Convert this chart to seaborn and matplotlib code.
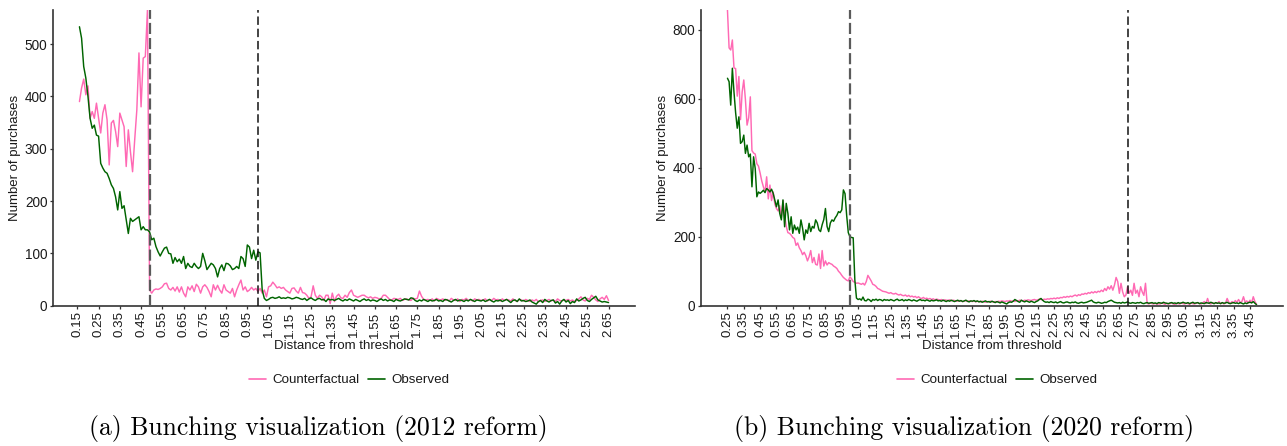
import numpy as np
import pandas as pd
import matplotlib
matplotlib.use("Agg")
import matplotlib.pyplot as plt
from matplotlib.lines import Line2D
import seaborn as sns

sns.set_theme(style="white")
plt.rcParams["font.family"] = ["Liberation Sans", "DejaVu Sans"]

# ---------------- data ----------------
series_names = ["Counterfactual", "Observed"]
series_colors = ["#FF69B4", "#006400"]

# 2012 reform: distance bins 0.16 .. 2.65
dist_2012 = np.round(np.arange(16, 266) / 100, 2)
cf_2012 = [
    390, 416, 433, 403, 420, 358, 371, 358, 387, 358,
    330, 368, 384, 355, 269, 349, 354, 333, 304, 368,
    355, 342, 266, 336, 294, 256, 317, 374, 483, 380,
    473, 476, 565, 30, 24, 30, 32, 31, 33, 36,
    42, 43, 33, 30, 35, 28, 36, 26, 36, 24,
    17, 36, 30, 38, 27, 41, 36, 24, 36, 40,
    35, 27, 17, 40, 30, 39, 30, 24, 40, 30,
    27, 24, 33, 17, 30, 40, 49, 30, 36, 27,
    30, 35, 30, 33, 27, 33, 24, 30, 17, 36,
    38, 45, 40, 34, 36, 33, 35, 30, 27, 24,
    33, 34, 28, 24, 35, 25, 24, 20, 14, 17,
    38, 20, 14, 20, 17, 10, 20, 20, 4, 24,
    8, 18, 22, 15, 14, 20, 16, 25, 30, 20,
    18, 16, 18, 20, 20, 17, 15, 17, 14, 16,
    15, 13, 14, 20, 20, 16, 12, 11, 14, 13,
    12, 14, 10, 12, 13, 11, 10, 14, 13, 14,
    28, 18, 12, 11, 12, 10, 13, 9, 14, 12,
    11, 13, 10, 12, 9, 14, 11, 10, 13, 8,
    12, 11, 14, 10, 12, 9, 13, 11, 12, 10,
    11, 13, 9, 12, 10, 14, 11, 12, 9, 13,
    10, 12, 11, 9, 13, 10, 8, 12, 11, 9,
    12, 10, 8, 11, 9, 12, 7, 10, 11, 8,
    10, 12, 9, 11, 8, 13, 10, 9, 11, 10,
    12, 9, 11, 8, 10, 13, 17, 11, 9, 14,
    12, 20, 16, 11, 8, 13, 16, 12, 19, 10,
]
obs_2012 = [
    533, 511, 457, 435, 400, 358, 339, 345, 326, 324,
    272, 263, 256, 253, 243, 231, 224, 208, 183, 218,
    186, 191, 164, 138, 167, 161, 164, 167, 170, 145,
    151, 145, 145, 141, 126, 129, 113, 103, 95, 103,
    110, 112, 100, 99, 81, 92, 84, 89, 81, 94,
    71, 81, 75, 73, 81, 75, 71, 75, 100, 86,
    69, 75, 81, 78, 71, 55, 71, 78, 67, 81,
    80, 76, 69, 71, 75, 71, 94, 90, 75, 116,
    112, 90, 106, 87, 103, 101, 30, 14, 10, 12,
    15, 16, 14, 15, 17, 14, 15, 14, 16, 15,
    13, 14, 16, 15, 13, 12, 14, 10, 13, 15,
    12, 10, 13, 14, 11, 12, 8, 13, 11, 12,
    10, 12, 14, 11, 9, 12, 10, 13, 11, 9,
    12, 10, 8, 11, 13, 10, 12, 9, 11, 10,
    8, 11, 13, 10, 12, 9, 11, 10, 8, 12,
    10, 9, 11, 13, 12, 11, 15, 14, 10, 8,
    11, 9, 12, 10, 8, 11, 9, 10, 12, 9,
    10, 8, 12, 11, 9, 7, 10, 12, 9, 11,
    10, 8, 11, 9, 12, 10, 8, 11, 10, 9,
    11, 8, 10, 12, 9, 7, 10, 9, 11, 8,
    10, 12, 9, 6, 10, 11, 8, 13, 9, 10,
    8, 9, 11, 7, 5, 3, 8, 10, 6, 12,
    9, 7, 10, 11, 5, 8, 3, 9, 12, 7,
    10, 4, 8, 6, 13, 9, 11, 14, 16, 10,
    8, 12, 15, 18, 11, 9, 7, 8, 7, 6,
]
thresholds_2012 = [0.49, 1.00]
xticks_2012 = np.round(np.arange(15, 266, 10) / 100, 2)
yticks_2012 = [0, 100, 200, 300, 400, 500]

# 2020 reform: distance bins 0.25 .. 3.49
dist_2020 = np.round(np.arange(25, 350) / 100, 2)
cf_2020 = [
    858, 748, 742, 771, 690, 688, 608, 665, 540, 620,
    655, 598, 524, 545, 606, 450, 443, 440, 412, 405,
    385, 362, 345, 330, 374, 310, 350, 305, 330, 295,
    282, 275, 290, 255, 305, 262, 230, 212, 210, 205,
    198, 195, 175, 182, 168, 160, 148, 155, 145, 130,
    142, 160, 125, 140, 120, 118, 150, 108, 160, 115,
    130, 118, 125, 122, 120, 115, 112, 108, 100, 95,
    88, 82, 78, 74, 72, 84, 78, 70, 68, 65,
    66, 64, 62, 65, 60, 70, 88, 80, 72, 62,
    60, 56, 50, 48, 45, 42, 41, 40, 38, 36,
    38, 35, 34, 36, 33, 31, 33, 30, 29, 31,
    27, 30, 26, 28, 25, 27, 23, 26, 22, 21,
    24, 20, 22, 19, 21, 18, 20, 17, 19, 18,
    16, 18, 15, 17, 16, 15, 17, 14, 16, 15,
    14, 13, 15, 14, 12, 13, 15, 12, 14, 13,
    12, 14, 11, 13, 12, 11, 13, 12, 10, 12,
    11, 13, 12, 10, 12, 11, 13, 12, 14, 13,
    12, 14, 13, 15, 13, 14, 12, 15, 14, 16,
    15, 14, 16, 15, 17, 16, 15, 17, 18, 16,
    17, 19, 18, 17, 19, 18, 20, 19, 21, 20,
    22, 20, 23, 21, 24, 23, 26, 24, 27, 25,
    28, 26, 29, 31, 28, 32, 30, 34, 33, 36,
    34, 38, 36, 40, 37, 41, 38, 42, 40, 45,
    41, 50, 44, 55, 48, 58, 45, 60, 82, 70,
    36, 65, 40, 26, 31, 55, 36, 45, 30, 65,
    36, 45, 26, 55, 40, 30, 65, 7, 5, 8,
    6, 5, 7, 4, 6, 5, 8, 6, 4, 7,
    5, 6, 8, 5, 4, 7, 6, 5, 8, 6,
    5, 7, 6, 4, 8, 6, 5, 7, 9, 6,
    5, 8, 12, 6, 21, 7, 5, 9, 6, 8,
    7, 12, 6, 9, 5, 8, 21, 10, 7, 12,
    8, 15, 10, 18, 9, 12, 26, 10, 14, 8,
    16, 9, 26, 12, 4,
]
obs_2020 = [
    660, 650, 582, 689, 620, 560, 515, 548, 471, 476,
    495, 442, 466, 432, 440, 345, 432, 398, 316, 330,
    326, 330, 335, 328, 340, 336, 330, 338, 326, 307,
    287, 307, 268, 249, 307, 229, 297, 268, 220, 258,
    210, 234, 220, 228, 210, 249, 225, 191, 220, 210,
    239, 215, 230, 225, 249, 240, 220, 215, 235, 250,
    282, 230, 215, 240, 249, 245, 255, 262, 273, 270,
    278, 336, 325, 262, 212, 200, 198, 197, 75, 22,
    18, 20, 16, 25, 15, 14, 19, 17, 12, 18,
    16, 19, 15, 18, 17, 14, 18, 16, 17, 15,
    18, 16, 14, 17, 19, 15, 16, 18, 14, 17,
    15, 18, 16, 14, 17, 15, 13, 16, 18, 15,
    16, 14, 17, 15, 13, 16, 14, 15, 17, 14,
    15, 13, 16, 14, 12, 15, 13, 16, 14, 12,
    14, 16, 13, 15, 12, 14, 16, 13, 11, 14,
    13, 15, 12, 14, 11, 13, 10, 12, 14, 11,
    12, 10, 13, 11, 9, 12, 10, 8, 11, 9,
    7, 5, 9, 11, 10, 13, 18, 15, 12, 10,
    16, 13, 11, 14, 12, 10, 13, 11, 9, 12,
    14, 18, 21, 16, 12, 10, 11, 9, 12, 10,
    9, 11, 8, 10, 12, 9, 8, 10, 11, 9,
    8, 10, 9, 11, 8, 7, 9, 10, 8, 9,
    10, 12, 14, 16, 11, 9, 8, 10, 9, 7,
    8, 10, 9, 12, 14, 16, 13, 10, 9, 8,
    9, 7, 10, 8, 9, 11, 8, 7, 9, 8,
    7, 9, 8, 10, 7, 6, 8, 9, 7, 8,
    9, 7, 8, 6, 9, 8, 7, 10, 8, 7,
    6, 8, 9, 7, 8, 6, 9, 7, 8, 10,
    8, 7, 9, 6, 8, 10, 7, 8, 9, 6,
    8, 7, 6, 9, 8, 7, 10, 8, 6, 9,
    7, 8, 6, 9, 7, 8, 10, 7, 6, 8,
    9, 7, 8, 6, 9, 7, 5, 8, 6, 9,
    10, 8, 12, 7, 3,
]
thresholds_2020 = [1.00, 2.70]
xticks_2020 = np.round(np.arange(25, 346, 10) / 100, 2)
yticks_2020 = [0, 200, 400, 600, 800]

captions = ["(a) Bunching visualization (2012 reform)",
            "(b) Bunching visualization (2020 reform)"]
x_title = "Distance from threshold"
y_title = "Number of purchases"

assert len(cf_2012) == len(obs_2012) == len(dist_2012)
assert len(cf_2020) == len(obs_2020) == len(dist_2020)

# ---------------- figure ----------------
W, H = 1287, 446
fig = plt.figure(figsize=(W / 100, H / 100), dpi=100)

axis_col = "#333333"
text_col = "#1a1a1a"


def panel(ax, dist, cf, obs, thresholds, xticks, yticks):
    df = pd.DataFrame({
        "dist": np.concatenate([dist, dist]),
        "count": np.concatenate([cf, obs]),
        "series": [series_names[0]] * len(dist) + [series_names[1]] * len(dist),
    })
    sns.lineplot(data=df, x="dist", y="count", hue="series",
                 hue_order=series_names, palette=series_colors,
                 estimator=None, sort=False, linewidth=1.05,
                 legend=False, ax=ax)
    ax.axvline(thresholds[0], color="#5a5a5a", lw=1.6,
               linestyle=(0, (5, 1.8)), zorder=5)
    ax.axvline(thresholds[1], color="#111111", lw=1.1,
               linestyle=(0, (5.5, 2.5)), zorder=5)
    ax.set_xlim(dist.min() - 0.05 * (dist.max() - dist.min()),
                dist.max() + 0.05 * (dist.max() - dist.min()))
    ax.set_ylim(0, max(max(cf), max(obs)))
    ax.set_xticks(xticks)
    ax.set_xticklabels([f"{t:.2f}" for t in xticks], rotation=90,
                       fontsize=9.6, color=text_col)
    ax.set_yticks(yticks)
    ax.set_yticklabels([str(t) for t in yticks], fontsize=9.8, color=text_col)
    ax.set_xlabel(x_title, fontsize=9.5, color=text_col, labelpad=2)
    ax.set_ylabel(y_title, fontsize=9.5, color=text_col, labelpad=3)
    for s in ["top", "right"]:
        ax.spines[s].set_visible(False)
    for s in ["left", "bottom"]:
        ax.spines[s].set_color(axis_col)
        ax.spines[s].set_linewidth(1.2)
    ax.tick_params(axis="both", which="major", length=2.4, width=0.9,
                   color=axis_col, pad=1.6, bottom=True, left=True)
    ax.grid(False)


ax1 = fig.add_axes([53 / W, 1 - 305.7 / H, 582 / W, 295.7 / H])
ax2 = fig.add_axes([701 / W, 1 - 305.7 / H, 582 / W, 295.7 / H])
panel(ax1, dist_2012, cf_2012, obs_2012, thresholds_2012, xticks_2012, yticks_2012)
panel(ax2, dist_2020, cf_2020, obs_2020, thresholds_2020, xticks_2020, yticks_2020)

handles = [Line2D([], [], color=c, lw=1.2) for c in series_colors]
for cx in (349 / W, 997 / W):
    fig.legend(handles, series_names, loc="center", bbox_to_anchor=(cx, 1 - 380 / H),
               ncol=2, frameon=False, fontsize=9.6, handlelength=1.3,
               handletextpad=0.45, columnspacing=0.6, labelcolor=text_col)

for cx, cap in zip((318 / W, 964 / W), captions):
    fig.text(cx, 1 - 428 / H, cap, ha="center", va="center",
             fontsize=18.5, family="cmr10", color="black")

fig.savefig("out.png", dpi=100, facecolor="white")
